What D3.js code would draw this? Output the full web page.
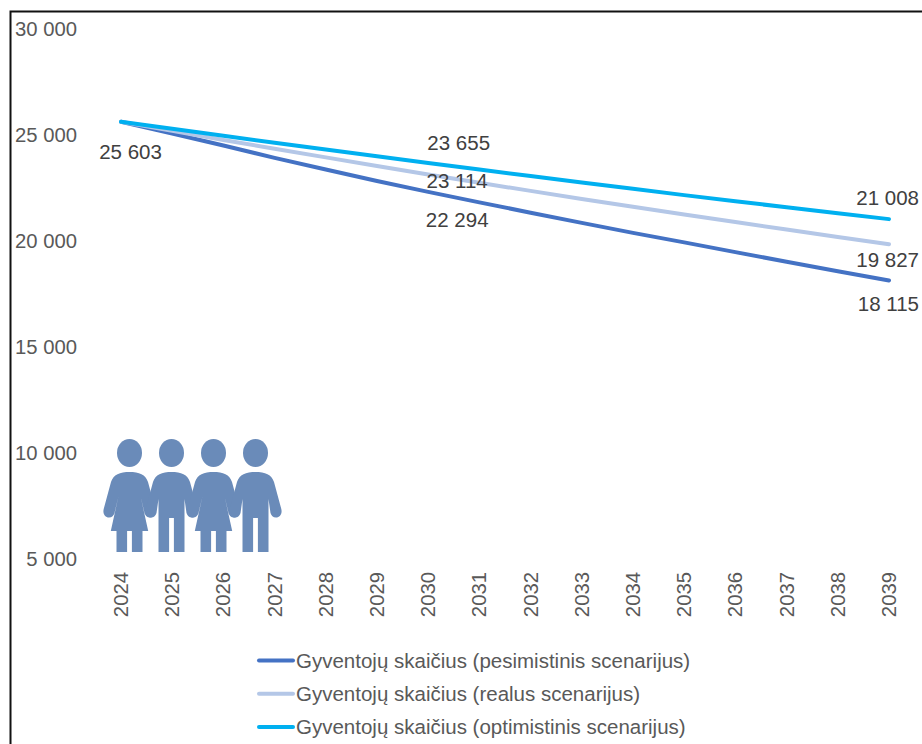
<!DOCTYPE html>
<html>
<head>
<meta charset="utf-8">
<script src="https://cdn.jsdelivr.net/npm/d3@7"></script>
<style>
  html, body { margin: 0; padding: 0; background: #fff; }
  svg { display: block; }
  text { font-family: "Liberation Sans", Arial, sans-serif; }
</style>
</head>
<body>
<div id="chart"></div>
<script>
// Data
const years = [2024, 2025, 2026, 2027, 2028, 2029, 2030, 2031, 2032, 2033, 2034, 2035, 2036, 2037, 2038, 2039];
const pessimistic = [25603, 25050, 24480, 23900, 23350, 22810, 22294, 21800, 21310, 20830, 20360, 19910, 19450, 19000, 18550, 18115];
const realistic = [25603, 25170, 24740, 24330, 23920, 23510, 23114, 22720, 22340, 21960, 21590, 21230, 20870, 20520, 20170, 19827];
const optimistic = [25603, 25270, 24940, 24610, 24290, 23970, 23655, 23350, 23040, 22740, 22440, 22140, 21850, 21570, 21290, 21008];
const seriesNames = [
  "Gyventojų skaičius (pesimistinis scenarijus)",
  "Gyventojų skaičius (realus scenarijus)",
  "Gyventojų skaičius (optimistinis scenarijus)"
];
const yTicks = [5000, 10000, 15000, 20000, 25000, 30000];
const figures = ["f", "m", "f", "m"];

const svgWidth = 922;
const svgHeight = 744;
const colors = ["#4472C4", "#B4C7E7", "#00B0F0"];
const fmt = d => d3.format(",")(d).replace(/,/g, " ");

const svg = d3.select("#chart").append("svg")
  .attr("width", svgWidth)
  .attr("height", svgHeight);

// scales
const x = d3.scalePoint().domain(years).range([121, 889]);
const y = d3.scaleLinear().domain([5000, 30000]).range([558.5, 28.5]);

// frame, only top and left are visible in the crop
svg.append("path")
  .attr("d", `M10.5,${svgHeight}V11.5H${svgWidth}`)
  .attr("fill", "none")
  .attr("stroke", "#111")
  .attr("stroke-width", 2);

// axes
const yAxis = svg.append("g")
  .attr("transform", "translate(77,0.5)")
  .call(d3.axisLeft(y).tickValues(yTicks).tickFormat(fmt).tickSize(0).tickPadding(0));
yAxis.select(".domain").remove();
yAxis.selectAll("text")
  .attr("font-size", 20.3)
  .attr("fill", "#595959");

const xAxis = svg.append("g")
  .attr("transform", "translate(0,558.5)")
  .call(d3.axisBottom(x).tickSize(0));
xAxis.select(".domain").remove();
xAxis.selectAll("text")
  .attr("font-size", 20.3)
  .attr("fill", "#595959")
  .attr("text-anchor", "end")
  .attr("dy", null)
  .attr("y", null)
  .attr("transform", "translate(6.5,13.5) rotate(-90)");

// people icon, one half of a figure, mirrored for the other half
const shoulderArm = "M-0.5,19C10,19 16,21.5 18.5,29L25.8,56C27,60.5 24.5,64.5 20.5,64.5C17.5,64.5 15.8,62.5 15,60";
const halves = {
  f: shoulderArm + "L11,43L18.7,78H13V99H2.4V78H-0.5Z",
  m: shoulderArm + "L13,46V99H2.4V65H-0.5Z"
};
const people = svg.append("g").selectAll("g")
  .data(figures)
  .enter()
  .append("g")
  .attr("transform", (d, i) => `translate(${129.5 + i * 42},453)`)
  .attr("fill", "#6A8BB9");
people.append("ellipse").attr("rx", 12.5).attr("ry", 14);
people.append("path").attr("d", d => halves[d]);
people.append("path").attr("d", d => halves[d]).attr("transform", "scale(-1,1)");

// lines
const line = d3.line()
  .x((d, i) => x(years[i]))
  .y(d => y(d));
[pessimistic, realistic, optimistic].forEach((values, i) => {
  svg.append("path")
    .datum(values)
    .attr("d", line)
    .attr("fill", "none")
    .attr("stroke", colors[i])
    .attr("stroke-width", 4)
    .attr("stroke-linecap", "round")
    .attr("stroke-linejoin", "round");
});

// value labels
const labelFor = [
  { v: pessimistic, i: 0, dx: 9.5, dy: 37, anchor: "middle" },
  { v: optimistic, i: 6, dx: 30.5, dy: -13.5, anchor: "middle" },
  { v: realistic, i: 6, dx: 29, dy: 14, anchor: "middle" },
  { v: pessimistic, i: 6, dx: 29, dy: 35.5, anchor: "middle" },
  { v: optimistic, i: 15, dx: 30, dy: -14, anchor: "end" },
  { v: realistic, i: 15, dx: 30, dy: 23, anchor: "end" },
  { v: pessimistic, i: 15, dx: 30, dy: 30.5, anchor: "end" }
];
svg.append("g").selectAll("text")
  .data(labelFor)
  .enter()
  .append("text")
  .attr("x", d => x(years[d.i]) + d.dx)
  .attr("y", d => y(d.v[d.i]) + d.dy)
  .attr("text-anchor", d => d.anchor)
  .attr("font-size", 20.5)
  .attr("fill", "#404040")
  .text(d => fmt(d.v[d.i]));

// legend
const legend = svg.append("g").selectAll("g")
  .data(seriesNames)
  .enter()
  .append("g")
  .attr("transform", (d, i) => `translate(0,${660.5 + i * 33.2})`);
legend.append("line")
  .attr("x1", 259).attr("x2", 293)
  .attr("stroke", (d, i) => colors[i])
  .attr("stroke-width", 4)
  .attr("stroke-linecap", "round");
legend.append("text")
  .attr("x", 296)
  .attr("y", 7)
  .attr("font-size", 20.5)
  .attr("fill", "#595959")
  .text(d => d);
</script>
</body>
</html>
